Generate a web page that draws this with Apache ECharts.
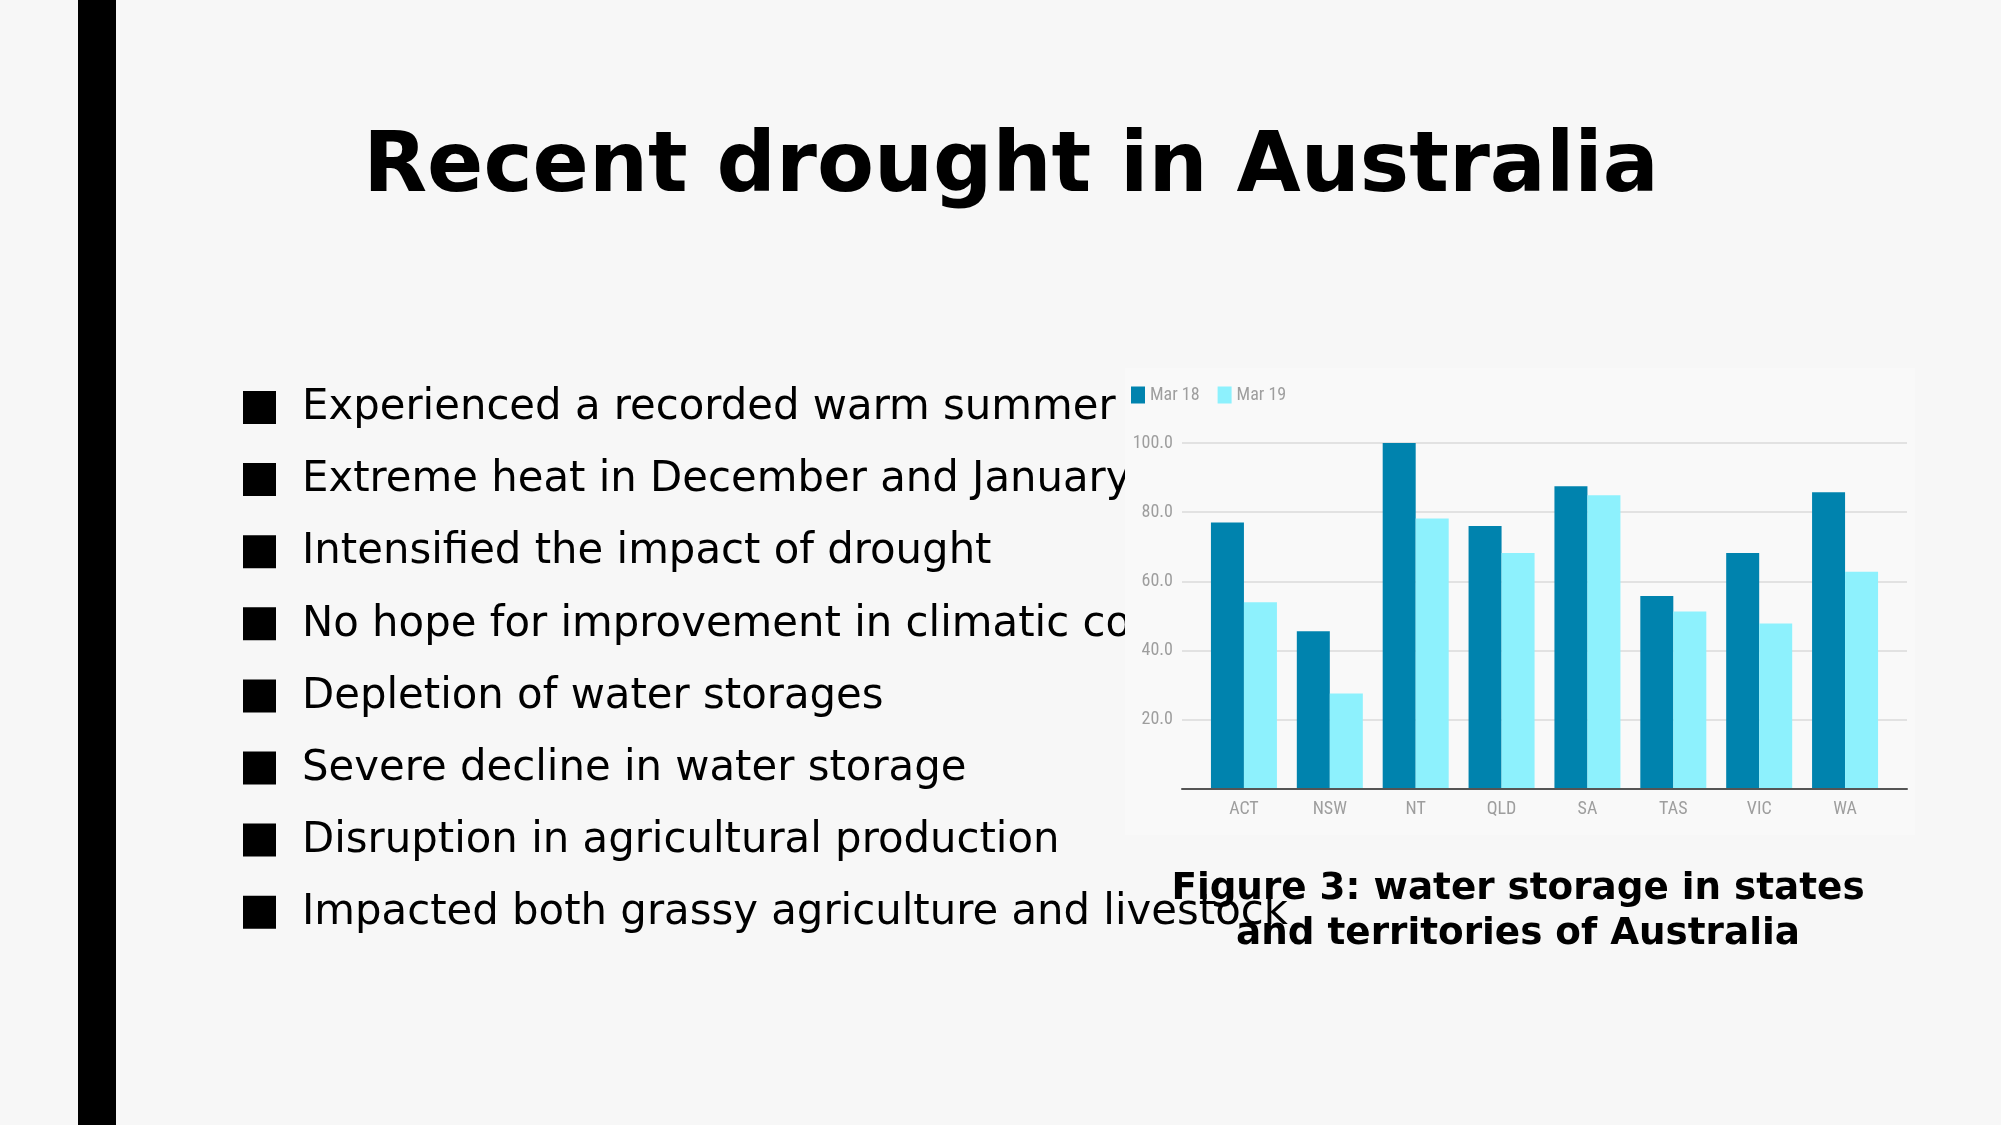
<!DOCTYPE html>
<html><head><meta charset="utf-8">
<script src="https://cdn.jsdelivr.net/npm/echarts@6/dist/echarts.min.js"></script>
<style>html,body{margin:0;padding:0;background:#f7f7f7}#c{width:2001px;height:1125px}</style>
</head><body><div id="c"></div>
<script>
const categories = ['ACT', 'NSW', 'NT', 'QLD', 'SA', 'TAS', 'VIC', 'WA'];
const mar18 = [77, 45.6, 100, 76, 87.5, 55.8, 68.2, 85.8];
const mar19 = [54, 27.6, 78.2, 68.2, 84.9, 51.3, 47.8, 62.8];
const seriesNames = ['Mar 18', 'Mar 19'];
const titleText = 'Recent drought in Australia';
const bullets = [
  'Experienced a recorded warm summer',
  'Extreme heat in December and January',
  'Intensified the impact of drought',
  'No hope for improvement in climatic conditions',
  'Depletion of water storages',
  'Severe decline in water storage',
  'Disruption in agricultural production',
  'Impacted both grassy agriculture and livestock'
];
const captionLines = ['Figure 3: water storage in states', 'and territories of Australia'];

const NARROW = '"Liberation Sans Narrow", "Roboto Condensed", Roboto, sans-serif';
const SANS = '"DejaVu Sans", sans-serif';

const chart = echarts.init(document.getElementById('c'), null, {renderer: 'canvas'});

const elements = [];
elements.push({type: 'rect', z: 0, shape: {x: 78, y: 0, width: 38, height: 1125}, style: {fill: '#000'}});
elements.push({type: 'text', z: 0, style: {text: titleText, x: 1011, y: 169, align: 'center', verticalAlign: 'middle',
  font: 'bold 83px ' + SANS, fill: '#000'}});
bullets.forEach((b, i) => {
  const base = 421 + i * 72.1;
  elements.push({type: 'rect', z: 0, shape: {x: 243, y: base - 30, width: 33, height: 33}, style: {fill: '#000'}});
  elements.push({type: 'text', z: 0, style: {text: b, x: 302, y: base - 12.6, align: 'left', verticalAlign: 'middle',
    font: '41.8px ' + SANS, fill: '#000'}});
});
elements.push({type: 'rect', z: 1, shape: {x: 1125, y: 368, width: 790, height: 467}, style: {fill: '#f9f9f9'}});
captionLines.forEach((c, i) => {
  elements.push({type: 'text', z: 10, style: {text: c, x: 1518, y: 889 + i * 45, align: 'center', verticalAlign: 'middle',
    font: 'bold 37.3px ' + SANS, fill: '#000'}});
});

const option = {
  backgroundColor: '#f7f7f7',
  animation: false,
  graphic: {elements: elements},
  legend: {
    left: 1126, top: 381, itemWidth: 14, itemHeight: 17, itemGap: 18, icon: 'rect', z: 8,
    textStyle: {fontFamily: NARROW, fontSize: 18, color: '#9e9e9e'},
    data: seriesNames
  },
  grid: [
    {left: 1201, top: 443, width: 687, height: 346},
    {left: 1182, top: 443, width: 725, height: 346}
  ],
  xAxis: [
    {type: 'category', gridIndex: 0, data: categories, z: 5,
      axisLine: {show: false}, axisTick: {show: false},
      axisLabel: {margin: 11, fontFamily: NARROW, fontSize: 18, color: '#9e9e9e'}},
    {type: 'value', gridIndex: 1, min: 0, max: 1, z: 7,
      axisLine: {show: true, onZero: false, lineStyle: {color: '#555', width: 2}},
      axisTick: {show: false}, axisLabel: {show: false}, splitLine: {show: false}}
  ],
  yAxis: [
    {type: 'value', gridIndex: 0, min: 0, max: 100, interval: 20, show: false},
    {type: 'value', gridIndex: 1, min: 0, max: 100, interval: 20, z: 5,
      axisLine: {show: false}, axisTick: {show: false},
      splitLine: {lineStyle: {color: '#e2e2e2', width: 2}},
      axisLabel: {margin: 9, fontFamily: NARROW, fontSize: 18, color: '#9e9e9e',
        formatter: v => (v === 0 ? '' : v.toFixed(1))}}
  ],
  series: [
    {name: seriesNames[0], type: 'bar', xAxisIndex: 0, yAxisIndex: 0, data: mar18, barWidth: 33, barGap: '0%',
      itemStyle: {color: '#0083ae'}, z: 6},
    {name: seriesNames[1], type: 'bar', xAxisIndex: 0, yAxisIndex: 0, data: mar19, barWidth: 33, barGap: '0%',
      itemStyle: {color: '#8df1fd'}, z: 6}
  ]
};
chart.setOption(option);
</script>
</body></html>
